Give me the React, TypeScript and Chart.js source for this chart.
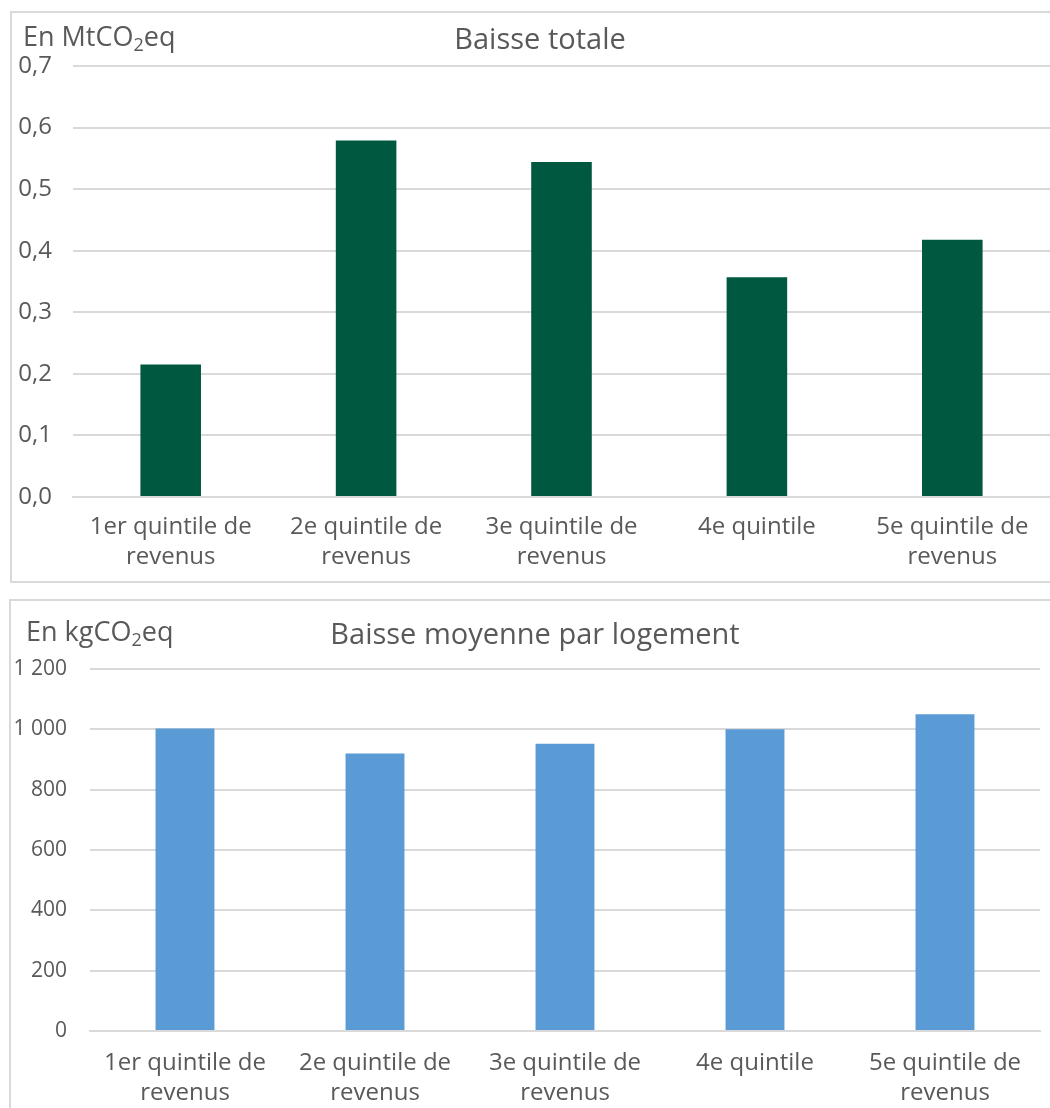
import React, { useEffect, useRef } from "react";
import { Chart, registerables } from "chart.js";

Chart.register(...registerables);

const categories: (string | string[])[] = [
  ["1er quintile de", "revenus"],
  ["2e quintile de", "revenus"],
  ["3e quintile de", "revenus"],
  "4e quintile",
  ["5e quintile de", "revenus"],
];

const totalValues = [0.215, 0.579, 0.544, 0.357, 0.418];
const perHomeValues = [1003, 920, 952, 1000, 1050];

const totalTitle = "Baisse totale";
const perHomeTitle = "Baisse moyenne par logement";
const totalUnit = ["En MtCO", "2", "eq"];
const perHomeUnit = ["En kgCO", "2", "eq"];

const totalAxis = { min: 0, max: 0.7, step: 0.1 };
const perHomeAxis = { min: 0, max: 1200, step: 200 };

const FONT = "'Open Sans', 'Noto Sans', sans-serif";
const TEXT = "#595959";
const GRID = "#d9d9d9";

type PanelProps = {
  values: number[];
  color: string;
  title: string;
  unit: string[];
  axis: { min: number; max: number; step: number };
  fmt: (v: number) => string;
  width: number;
  height: number;
  yWidth: number;
  xHeight: number;
  padTop: number;
  padRight: number;
  yPad: number;
  xPad: number;
  tickSize: number;
  catSize: number;
  titleSize: number;
  unitSize: number;
  titleX: number;
  titleY: number;
  unitX: number;
  unitY: number;
};

function Panel(p: PanelProps) {
  const ref = useRef<HTMLCanvasElement | null>(null);
  useEffect(() => {
    if (!ref.current) return;
    const textPlugin = {
      id: "texts",
      afterDraw(chart: any) {
        const ctx = chart.ctx as CanvasRenderingContext2D;
        ctx.save();
        ctx.fillStyle = TEXT;
        ctx.textBaseline = "alphabetic";
        ctx.font = `${p.titleSize}px ${FONT}`;
        ctx.textAlign = "center";
        ctx.fillText(p.title, p.titleX, p.titleY);
        ctx.textAlign = "left";
        ctx.font = `${p.unitSize}px ${FONT}`;
        let x = p.unitX;
        ctx.fillText(p.unit[0], x, p.unitY);
        x += ctx.measureText(p.unit[0]).width;
        ctx.font = `${Math.round(p.unitSize * 0.65)}px ${FONT}`;
        ctx.fillText(p.unit[1], x, p.unitY + p.unitSize * 0.2);
        x += ctx.measureText(p.unit[1]).width;
        ctx.font = `${p.unitSize}px ${FONT}`;
        ctx.fillText(p.unit[2], x, p.unitY);
        ctx.restore();
      },
    };
    const chart = new Chart(ref.current, {
      type: "bar",
      data: {
        labels: categories,
        datasets: [
          {
            data: p.values,
            backgroundColor: p.color,
            barPercentage: 0.31,
            categoryPercentage: 1,
          },
        ],
      },
      options: {
        animation: false,
        responsive: false,
        maintainAspectRatio: false,
        layout: { padding: { top: p.padTop, right: p.padRight, left: 0, bottom: 0 } },
        plugins: {
          legend: { display: false },
          title: { display: false },
          tooltip: { enabled: false },
        },
        scales: {
          x: {
            grid: { display: false, drawTicks: false },
            border: { display: true, color: GRID, width: 2 },
            ticks: {
              color: TEXT,
              font: { family: FONT, size: p.catSize, lineHeight: 1.25 },
              padding: p.xPad,
              maxRotation: 0,
              autoSkip: false,
            },
            afterFit: (s: any) => {
              s.height = p.xHeight;
            },
          },
          y: {
            min: p.axis.min,
            max: p.axis.max,
            grid: { color: GRID, lineWidth: 2, drawTicks: false },
            border: { display: false },
            ticks: {
              stepSize: p.axis.step,
              color: TEXT,
              font: { family: FONT, size: p.tickSize },
              padding: p.yPad,
              callback: (v: any) => p.fmt(Number(v)),
            },
            afterFit: (s: any) => {
              s.width = p.yWidth;
            },
          },
        },
      },
      plugins: [textPlugin],
    });
    return () => chart.destroy();
  }, []);
  return <canvas ref={ref} width={p.width} height={p.height} style={{ display: "block" }} />;
}

const fmtDecimal = (v: number) => v.toFixed(1).replace(".", ",");
const fmtThousands = (v: number) =>
  Math.round(v)
    .toString()
    .replace(/\B(?=(\d{3})+(?!\d))/g, " ");

export default function App() {
  return (
    <div style={{ position: "fixed", left: 0, top: 0, width: 1050, height: 1108, background: "#fff", overflow: "hidden" }}>
      <div
        style={{
          position: "absolute",
          left: 10,
          top: 11,
          width: 1060,
          height: 568,
          border: `2px solid ${GRID}`,
        }}
      >
        <Panel
          values={totalValues}
          color="#005840"
          title={totalTitle}
          unit={totalUnit}
          axis={totalAxis}
          fmt={fmtDecimal}
          width={1038}
          height={567}
          yWidth={61}
          xHeight={83}
          padTop={53}
          padRight={0}
          yPad={21}
          xPad={15}
          tickSize={24}
          catSize={24}
          titleSize={29}
          unitSize={27}
          titleX={528}
          titleY={36}
          unitX={11}
          unitY={33}
        />
      </div>
      <div
        style={{
          position: "absolute",
          left: 9,
          top: 599,
          width: 1060,
          height: 540,
          border: `2px solid ${GRID}`,
        }}
      >
        <Panel
          values={perHomeValues}
          color="#5b9bd5"
          title={perHomeTitle}
          unit={perHomeUnit}
          axis={perHomeAxis}
          fmt={fmtThousands}
          width={1039}
          height={507}
          yWidth={79}
          xHeight={77}
          padTop={68}
          padRight={10}
          yPad={23}
          xPad={17}
          tickSize={21}
          catSize={24}
          titleSize={29}
          unitSize={27}
          titleX={524}
          titleY={43}
          unitX={15}
          unitY={40}
        />
      </div>
    </div>
  );
}
